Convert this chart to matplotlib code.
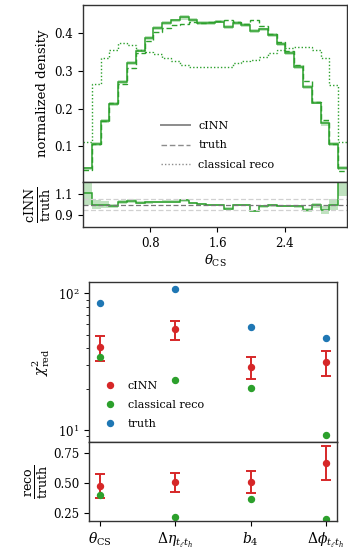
import numpy as np
import matplotlib
matplotlib.use("Agg")
import matplotlib.pyplot as plt
from matplotlib.lines import Line2D

plt.rcParams['font.family'] = ['DejaVu Serif']
plt.rcParams['mathtext.fontset'] = 'dejavuserif'

# ---------------- data ----------------
n_bins = 30
theta_range = (0.0, np.pi)
cinn = [0.041, 0.106, 0.166, 0.213, 0.271, 0.320, 0.354, 0.388, 0.413, 0.427,
        0.434, 0.442, 0.435, 0.428, 0.428, 0.431, 0.417, 0.427, 0.422, 0.406,
        0.410, 0.395, 0.372, 0.347, 0.311, 0.257, 0.216, 0.161, 0.106, 0.043]
cinn_err = [0.004, 0.005, 0.005, 0.005, 0.005, 0.005, 0.005, 0.005, 0.005, 0.005,
            0.005, 0.006, 0.005, 0.005, 0.005, 0.005, 0.005, 0.005, 0.005, 0.005,
            0.005, 0.005, 0.005, 0.005, 0.005, 0.005, 0.005, 0.006, 0.006, 0.005]
truth = [0.037, 0.106, 0.166, 0.216, 0.265, 0.309, 0.348, 0.380, 0.403, 0.415,
         0.422, 0.424, 0.429, 0.426, 0.429, 0.433, 0.434, 0.430, 0.425, 0.434,
         0.418, 0.398, 0.378, 0.352, 0.316, 0.272, 0.218, 0.170, 0.106, 0.035]
reco = [0.111, 0.266, 0.333, 0.356, 0.374, 0.370, 0.356, 0.351, 0.344, 0.334,
        0.325, 0.317, 0.311, 0.311, 0.311, 0.311, 0.311, 0.320, 0.325, 0.329,
        0.338, 0.347, 0.355, 0.361, 0.364, 0.363, 0.355, 0.334, 0.262, 0.111]

observables = [r'$\theta_\mathrm{CS}$', r'$\Delta\eta_{t_\ell t_h}$', r'$b_4$',
               r'$\Delta\phi_{t_\ell t_h}$']
chi2_truth = [85.3, 107.5, 56.6, 46.9]
chi2_cinn = [40.3, 54.6, 28.9, 31.3]
chi2_cinn_lo = [32.0, 45.5, 23.5, 24.8]
chi2_cinn_hi = [49.0, 63.0, 34.2, 38.0]
chi2_reco = [34.2, 23.1, 20.5, 9.3]

GREEN = '#2ca02c'
RED = '#d62728'
BLUE = '#1f77b4'
GRAY = '#8c8c8c'
FS = 8.5

fig = plt.figure(figsize=(3.48, 5.51), dpi=100)

W, H = 348.0, 551.0
def rect(l, r, t, b):
    return [l / W, (H - b) / H, (r - l) / W, (b - t) / H]

ax1 = fig.add_axes(rect(83, 347, 5, 182))
ax1r = fig.add_axes(rect(83, 347, 182, 227), sharex=ax1)
ax2 = fig.add_axes(rect(89, 337, 282, 442))
ax2r = fig.add_axes(rect(89, 337, 442, 521), sharex=ax2)

edges = np.linspace(theta_range[0], theta_range[1], n_bins + 1)
c = np.array(cinn); e = np.array(cinn_err); t = np.array(truth); r = np.array(reco)

# main histogram panel
ax1.stairs(c + e, edges, baseline=c - e, fill=True, color=GREEN, alpha=0.3, lw=0)
ax1.stairs(c, edges, color=GREEN, lw=1.1, baseline=None)
ax1.stairs(t, edges, color=GREEN, lw=1.0, ls=(0, (4, 2)), baseline=None)
ax1.stairs(r, edges, color=GREEN, lw=1.0, ls=(0, (1, 1.5)), baseline=None)
ax1.set_xlim(theta_range)
ax1.set_ylim(0.005, 0.475)
ax1.set_yticks([0.1, 0.2, 0.3, 0.4])
ax1.set_ylabel('normalized density', fontsize=FS + 1)
ax1.tick_params(axis='x', bottom=False, labelbottom=False)
ax1.tick_params(axis='y', labelsize=FS, length=3.5, direction='out')

handles = [Line2D([], [], color=GRAY, lw=1.4, ls='-'),
           Line2D([], [], color=GRAY, lw=1.0, ls=(0, (4, 2))),
           Line2D([], [], color=GRAY, lw=1.0, ls=(0, (1, 1.5)))]
ax1.legend(handles, ['cINN', 'truth', 'classical reco'], loc='lower center',
           bbox_to_anchor=(0.51, 0.012), frameon=False, fontsize=FS - 0.5,
           handlelength=2.6, labelspacing=0.85)

# ratio panel
ax1r.stairs((c + e) / t, edges, baseline=(c - e) / t, fill=True, color=GREEN,
            alpha=0.3, lw=0)
ax1r.stairs(c / t, edges, color=GREEN, lw=1.1, baseline=None)
ax1r.axhline(1.0, color='#777777', ls=(0, (4, 2)), lw=0.9)
ax1r.axhline(1.05, color='#d0d0d0', ls=(0, (4, 2)), lw=0.9)
ax1r.axhline(0.95, color='#d0d0d0', ls=(0, (4, 2)), lw=0.9)
ax1r.set_ylim(0.78, 1.22)
ax1r.set_yticks([0.9, 1.1])
ax1r.set_xticks([0.8, 1.6, 2.4])
ax1r.tick_params(labelsize=FS, length=3.5, direction='out')
ax1r.set_ylabel(r'$\frac{\mathrm{cINN}}{\mathrm{truth}}$', fontsize=FS + 4.5,
                labelpad=1)
ax1r.set_xlabel(r'$\theta_\mathrm{CS}$', fontsize=FS + 1, labelpad=2)

# chi2 panel
x = np.arange(len(observables))
ci = np.array(chi2_cinn)
yerr = [ci - np.array(chi2_cinn_lo), np.array(chi2_cinn_hi) - ci]
ax2.errorbar(x, ci, yerr=yerr, fmt='o', color=RED, ms=4.3, capsize=3.4,
             elinewidth=1.4, capthick=1.4)
h_r, = ax2.plot(x, chi2_reco, 'o', color=GREEN, ms=4.3)
h_t, = ax2.plot(x, chi2_truth, 'o', color=BLUE, ms=4.3)
h_cm = Line2D([], [], marker='o', ls='', color=RED, ms=4.3)
ax2.set_yscale('log')
ax2.set_ylim(8.2, 121)
ax2.set_xlim(-0.15, 3.15)
ax2.set_ylabel(r'$\chi^2_\mathrm{red}$', fontsize=FS + 1.5)
ax2.tick_params(axis='x', bottom=False, labelbottom=False)
ax2.tick_params(axis='y', which='major', labelsize=FS, length=3.5)
ax2.tick_params(axis='y', which='minor', length=2)
ax2.legend([h_cm, h_r, h_t], ['cINN', 'classical reco', 'truth'],
           loc='lower left', bbox_to_anchor=(0.0, 0.02), frameon=False,
           fontsize=FS - 0.5, handletextpad=0.6, labelspacing=0.8)

# reco/truth panel
ri = ci / np.array(chi2_truth)
rerr = [(ci - np.array(chi2_cinn_lo)) / np.array(chi2_truth),
        (np.array(chi2_cinn_hi) - ci) / np.array(chi2_truth)]
ax2r.errorbar(x, ri, yerr=rerr, fmt='o', color=RED, ms=4.3, capsize=3.4,
              elinewidth=1.4, capthick=1.4)
ax2r.plot(x, np.array(chi2_reco) / np.array(chi2_truth), 'o', color=GREEN, ms=4.3)
ax2r.set_ylim(0.18, 0.845)
ax2r.set_yticks([0.25, 0.50, 0.75])
ax2r.set_yticklabels(['0.25', '0.50', '0.75'])
ax2r.set_xticks(x)
ax2r.set_xticklabels(observables)
ax2r.tick_params(labelsize=FS, length=3.5)
ax2r.tick_params(axis='x', labelsize=FS + 1.5)
ax2r.set_ylabel(r'$\frac{\mathrm{reco}}{\mathrm{truth}}$', fontsize=FS + 4.5,
                labelpad=2)

for a in (ax1, ax1r, ax2, ax2r):
    for s in a.spines.values():
        s.set_color('#333333')
        s.set_linewidth(1.0)

fig.savefig('out.png', dpi=100)
